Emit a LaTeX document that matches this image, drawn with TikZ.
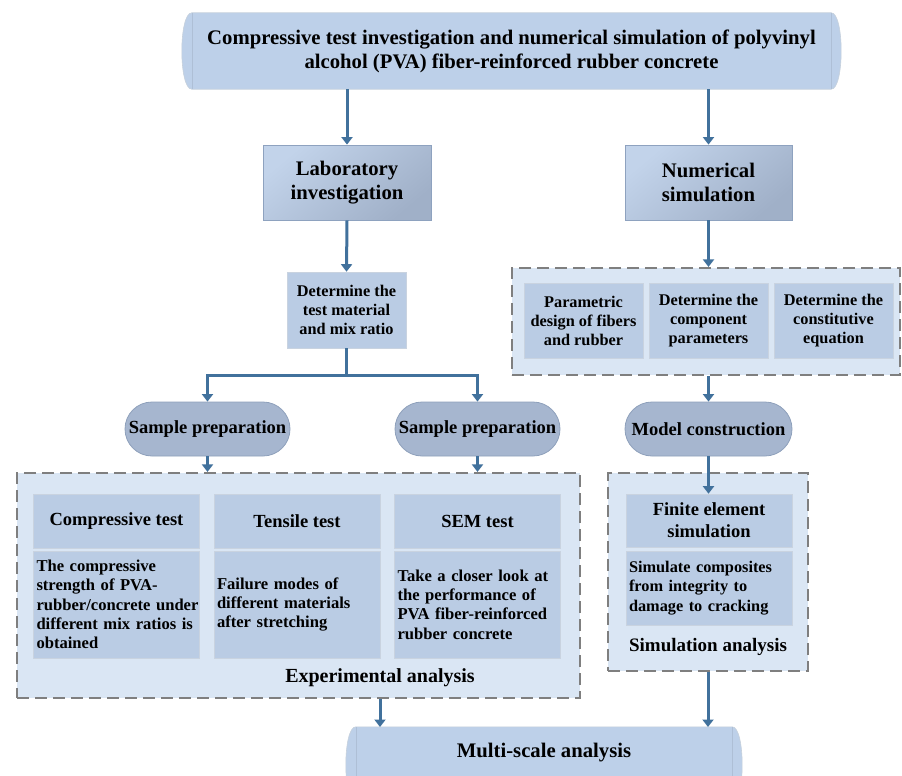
\documentclass[tikz,border=0pt]{standalone}
\usepackage{fontspec}
\setmainfont{Liberation Serif}
\usetikzlibrary{arrows.meta,calc}
\definecolor{arrowc}{HTML}{41719C}
\definecolor{cyl}{HTML}{BDD0E9}
\definecolor{cylline}{HTML}{AEBFD6}
\definecolor{cylborder}{HTML}{C6D0DC}
\definecolor{innerc}{HTML}{BACCE4}
\definecolor{innerb}{HTML}{C9D3E0}
\definecolor{dashfill}{HTML}{DAE6F4}
\definecolor{dashline}{HTML}{7F7F7F}
\definecolor{stad}{HTML}{A6B6CF}
\definecolor{stadb}{HTML}{8EA0BB}
\definecolor{gradA}{HTML}{C2D3EA}
\definecolor{gradB}{HTML}{A0B0C8}
\definecolor{gradborder}{HTML}{8EA2BF}
\tikzset{
  arr/.style={draw=arrowc, line width=3pt, -{Triangle[width=11pt,length=7.5pt]}},
  plainarr/.style={draw=arrowc, line width=3pt},
  bigfont/.style={font=\fontsize{20.7}{24}\selectfont\bfseries},
  midfont/.style={font=\fontsize{18.5}{22}\selectfont\bfseries},
  smallfont/.style={font=\fontsize{16.3}{19}\selectfont\bfseries},
  bodyfont/.style={font=\fontsize{16.6}{19.4}\selectfont\bfseries},
  gradbox/.style={rectangle, draw=gradborder, line width=0.8pt, top color=gradA, bottom color=gradB, shading angle=40, bigfont, align=center, inner sep=0pt},
  stadium/.style={rectangle, rounded corners=27pt, fill=stad, draw=stadb, line width=0.8pt, midfont, inner sep=0pt, minimum height=54pt},
  innerbox/.style={rectangle, fill=innerc, draw=innerb, line width=0.6pt, inner sep=0pt, align=center},
  bodybox/.style={rectangle, fill=innerc, draw=innerb, line width=0.6pt, inner xsep=3pt, inner ysep=0pt, align=left, bodyfont, minimum width=166pt, text width=160pt},
  dashbox/.style={rectangle, fill=dashfill, draw=dashline, line width=2.2pt, dash pattern=on 12pt off 6pt, inner sep=0pt},
  plaintext/.style={inner sep=0pt},
}
\begin{document}
\begin{tikzpicture}[x=1pt,y=-1pt]
\clip (0,0) rectangle (902,776);
\fill[white] (0,0) rectangle (902,776);

% ---------- title cylinder ----------
\node[rectangle, minimum width=639pt, minimum height=76pt, inner sep=0pt] (title) at (511.5,51) {};
\filldraw[fill=cyl, draw=cylborder, line width=0.6pt]
  (title.north west) -- (title.north east)
  .. controls ($(title.north east)+(13.3,0)$) and ($(title.south east)+(13.3,0)$) .. (title.south east)
  -- (title.south west)
  .. controls ($(title.south west)+(-13.3,0)$) and ($(title.north west)+(-13.3,0)$) .. cycle;
\draw[cylline, line width=0.6pt] (title.north east) -- (title.south east);
\draw[cylline, line width=0.6pt] (title.north west) -- (title.south west);
\node[bigfont, align=center, plaintext] at (title.center) {Compressive test investigation and numerical simulation of polyvinyl\\alcohol (PVA) fiber-reinforced rubber concrete};

% ---------- level 2 ----------
\node[gradbox, minimum width=168pt, minimum height=75pt] (lab) at (347,182.5) {Laboratory\\investigation};
\node[gradbox, minimum width=167pt, minimum height=75pt] (num) at (708.5,182.5) {Numerical\\simulation};

% ---------- left branch ----------
\node[innerbox, smallfont, minimum width=119pt, minimum height=76pt] (det) at (346.5,310) {Determine the\\test material\\and mix ratio};
\coordinate (split) at (346.5,375);
\node[stadium, minimum width=165pt] (sp1) at (207.5,429) {Sample preparation};
\node[stadium, minimum width=165pt] (sp2) at (477.5,429) {Sample preparation};

\node[dashbox, minimum width=563pt, minimum height=225pt] (expbox) at (298.5,585.5) {};
\node[innerbox, midfont, minimum width=166pt, minimum height=54pt] (comph) at (116.5,521) {Compressive test};
\node[innerbox, midfont, minimum width=166pt, minimum height=54pt] (tenh) at (297,521) {Tensile test};
\node[innerbox, midfont, minimum width=166pt, minimum height=54pt] (semh) at (477.5,521) {SEM test};
\node[bodybox, minimum height=107pt] (compb) at (116.5,604.5) {\mbox{The compressive}\\\mbox{strength of PVA-}\\\mbox{rubber/concrete under}\\\mbox{different mix ratios is}\\\mbox{obtained}};
\node[bodybox, minimum height=107pt] (tenb) at (297,604.5) {\mbox{Failure modes of}\\\mbox{different materials}\\\mbox{after stretching}};
\node[bodybox, minimum height=107pt] (semb) at (477.5,604.5) {\mbox{Take a closer look at}\\\mbox{the performance of}\\\mbox{PVA fiber-reinforced}\\\mbox{rubber concrete}};
\node[plaintext, font=\fontsize{20}{24}\selectfont\bfseries] (explabel) at (380,678) {Experimental analysis};

% ---------- right branch ----------
\node[dashbox, minimum width=388pt, minimum height=107pt] (numbox) at (706,321.5) {};
\node[innerbox, smallfont, minimum width=119pt, minimum height=75pt] (par) at (583.5,320.5) {Parametric\\design of fibers\\and rubber};
\node[innerbox, smallfont, minimum width=119pt, minimum height=75pt] (cmp) at (708.5,320.5) {Determine the\\component\\parameters};
\node[innerbox, smallfont, minimum width=119pt, minimum height=75pt] (cst) at (833.5,320.5) {Determine the\\constitutive\\equation};

\node[stadium, minimum width=167pt] (mc) at (708.5,429) {Model construction};

\node[dashbox, minimum width=200pt, minimum height=198pt] (simbox) at (708,572) {};
\node[innerbox, midfont, minimum width=166pt, minimum height=53pt] (fe) at (709,520.5) {Finite element\\simulation};
\node[bodybox, font=\fontsize{16.3}{19.4}\selectfont\bfseries, minimum height=74pt] (feb) at (709,588) {\mbox{Simulate composites}\\\mbox{from integrity to}\\\mbox{damage to cracking}};
\node[plaintext, font=\fontsize{19}{23}\selectfont\bfseries] (simlabel) at (708,647) {Simulation analysis};

% ---------- bottom cylinder ----------
\node[rectangle, minimum width=376pt, minimum height=52pt, inner sep=0pt] (ms) at (544,753) {};
\filldraw[fill=cyl, draw=cylborder, line width=0.6pt]
  (ms.north west) -- (ms.north east)
  .. controls ($(ms.north east)+(13.3,0)$) and ($(ms.north east)+(13.3,76)$) .. ($(ms.north east)+(0,76)$)
  -- ($(ms.north west)+(0,76)$)
  .. controls ($(ms.north west)+(-13.3,76)$) and ($(ms.north west)+(-13.3,0)$) .. cycle;
\draw[cylline, line width=0.6pt] (ms.north east) -- ++(0,80);
\draw[cylline, line width=0.6pt] (ms.north west) -- ++(0,80);
\node[bigfont, plaintext] at (ms.center) {Multi-scale analysis};

% ---------- connectors ----------
\draw[arr] (lab.north |- title.south) -- (lab.north);
\draw[arr] (num.north |- title.south) -- (num.north);
\draw[arr] (lab.south) -- (det.north);
\draw[plainarr] (det.south) -- (split);
\draw[arr] (split) -| (sp1.north);
\draw[arr] (split) -| (sp2.north);
\draw[arr] (sp1.south) -- (sp1.south |- expbox.north);
\draw[arr] (sp2.south) -- (sp2.south |- expbox.north);
\coordinate (msl) at (380,727);
\coordinate (msr) at (708,727);
\draw[arr] (msl |- expbox.south) -- (msl);
\draw[arr] (num.south) -- (num.south |- numbox.north);
\draw[arr] (mc.north |- numbox.south) -- (mc.north);
\draw[arr] (mc.south) -- (mc.south |- fe.north);
\draw[arr] (msr |- simbox.south) -- (msr);
\end{tikzpicture}
\end{document}
